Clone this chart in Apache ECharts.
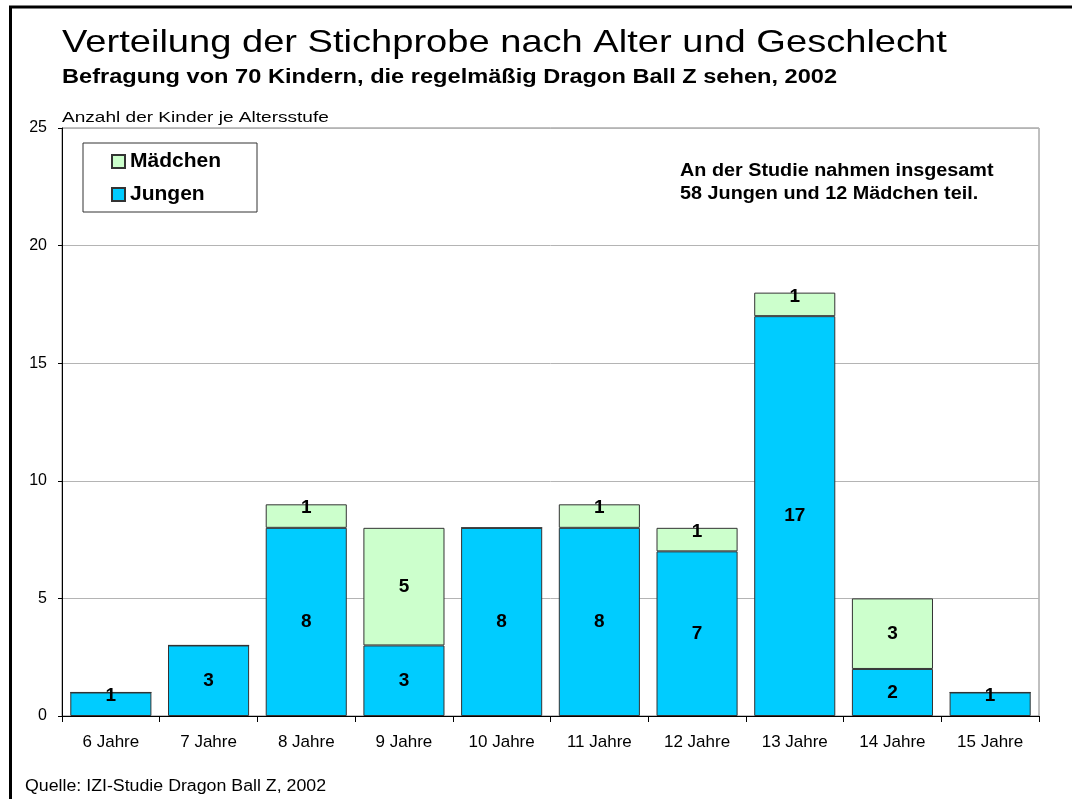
<!DOCTYPE html>
<html>
<head>
<meta charset="utf-8">
<title>Verteilung der Stichprobe nach Alter und Geschlecht</title>
<script src="https://cdn.jsdelivr.net/npm/echarts@6/dist/echarts.min.js"></script>
<style>
  html, body { margin: 0; padding: 0; background: #fff; }
  #chart { width: 1072px; height: 799px; }
</style>
</head>
<body>
<div id="chart"></div>
<script>
// Altersstufen
const ageLabels = ["6 Jahre", "7 Jahre", "8 Jahre", "9 Jahre", "10 Jahre",
  "11 Jahre", "12 Jahre", "13 Jahre", "14 Jahre", "15 Jahre"];
// Anzahl Jungen / Mädchen je Altersstufe
const boys = [1, 3, 8, 3, 8, 8, 7, 17, 2, 1];
const girls = [0, 0, 1, 5, 0, 1, 1, 1, 3, 0];
const yTicks = { min: 0, max: 25, interval: 5 };

const FONT = "'Liberation Sans', Arial, sans-serif";

// kleine Segmente: Beschriftung etwas nach oben schieben (wie im Original)
function toItems(arr) {
  return arr.map(function (v) {
    return v === 1 ? { value: v, label: { offset: [0, -8] } } : v;
  });
}

// Freitext; die Vorlage ist horizontal etwas gestreckt, daher scaleX
function freeText(text, x, y, size, bold, sx, lineHeight) {
  return {
    type: "text",
    x: x,
    y: y,
    scaleX: sx,
    silent: true,
    style: {
      text: text,
      fontFamily: FONT,
      fontSize: size,
      fontWeight: bold ? "bold" : "normal",
      lineHeight: lineHeight || size,
      fill: "#000",
      align: "left",
      verticalAlign: "top"
    }
  };
}

const labelStyle = {
  show: true,
  position: "inside",
  color: "#000",
  fontFamily: FONT,
  fontWeight: "bold",
  fontSize: 19,
  formatter: function (p) { return p.value ? p.value : ""; }
};

const myChart = echarts.init(document.getElementById("chart"), null, { renderer: "canvas" });

const option = {
  backgroundColor: "#fff",
  animation: false,
  textStyle: { fontFamily: FONT },
  legend: {
    data: ["Mädchen", "Jungen"],
    orient: "vertical",
    left: 83,
    top: 143,
    icon: "rect",
    itemWidth: 13,
    itemHeight: 13,
    itemGap: 12,
    padding: [8, 36, 7, 28],
    borderColor: "#333",
    borderWidth: 1,
    backgroundColor: "#fff",
    selectedMode: false,
    textStyle: { fontFamily: FONT, fontSize: 21, fontWeight: "bold", color: "#000" }
  },
  grid: {
    left: 62,
    right: 33,
    top: 128,
    bottom: 83,
    show: true,
    borderColor: "#808080",
    borderWidth: 1
  },
  xAxis: {
    type: "category",
    data: ageLabels,
    axisLine: { lineStyle: { color: "#000", width: 1 } },
    axisTick: { show: true, length: 6, lineStyle: { color: "#000" } },
    axisLabel: { color: "#000", fontFamily: FONT, fontSize: 17, margin: 18 }
  },
  yAxis: {
    type: "value",
    min: yTicks.min,
    max: yTicks.max,
    interval: yTicks.interval,
    axisLine: { show: true, lineStyle: { color: "#000", width: 1 } },
    axisTick: { show: true, length: 4, lineStyle: { color: "#000" } },
    axisLabel: { color: "#000", fontFamily: FONT, fontSize: 16, margin: 15 },
    splitLine: { show: true, lineStyle: { color: "#b4b4b4", width: 1 } }
  },
  graphic: [
    {
      type: "rect",
      silent: true,
      shape: { x: 10.5, y: 7, width: 2000, height: 2000 },
      style: { fill: "none", stroke: "#000", lineWidth: 3 }
    },
    freeText("Verteilung der Stichprobe nach Alter und Geschlecht", 62, 27, 32, false, 1.19),
    freeText("Befragung von 70 Kindern, die regelmäßig Dragon Ball Z sehen, 2002", 62, 67, 20, true, 1.18),
    freeText("Anzahl der Kinder je Altersstufe", 62, 110, 15, false, 1.27),
    freeText("An der Studie nahmen insgesamt\n58 Jungen und 12 Mädchen teil.", 680, 160, 18, true, 1.1, 23),
    freeText("Quelle: IZI-Studie Dragon Ball Z, 2002", 25, 779, 16, false, 1.11)
  ],
  series: [
    {
      name: "Jungen",
      type: "bar",
      stack: "gesamt",
      barCategoryGap: "17%",
      data: toItems(boys),
      itemStyle: { color: "#00ccff", borderColor: "#333", borderWidth: 1 },
      label: labelStyle
    },
    {
      name: "Mädchen",
      type: "bar",
      stack: "gesamt",
      barCategoryGap: "17%",
      data: toItems(girls),
      itemStyle: { color: "#ccffcc", borderColor: "#333", borderWidth: 1 },
      label: labelStyle
    }
  ]
};

myChart.setOption(option);
</script>
</body>
</html>
